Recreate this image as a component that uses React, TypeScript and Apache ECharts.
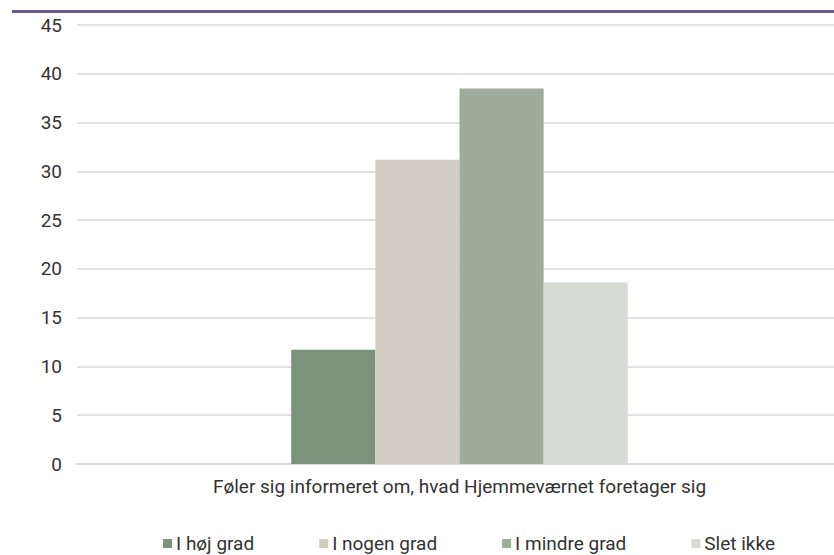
import React, { useEffect, useRef } from "react";
import * as echarts from "echarts";

const categories = ["Føler sig informeret om, hvad Hjemmeværnet foretager sig"];
const seriesNames = ["I høj grad", "I nogen grad", "I mindre grad", "Slet ikke"];
const seriesValues = [[11.7], [31.2], [38.5], [18.6]];
const seriesColors = ["#7a937a", "#d1cdc2", "#9dad99", "#d9dcd5"];

const FONT = "Roboto";

export default function App() {
  const ref = useRef<HTMLDivElement>(null);
  useEffect(() => {
    document.body.style.margin = "0";
    document.body.style.overflow = "hidden";
    const chart = echarts.init(ref.current!, null, { renderer: "svg" });
    chart.setOption({
      animation: false,
      textStyle: { fontFamily: FONT },
      grid: { left: 77, right: 0, top: 25, bottom: 91 },
      graphic: [
        {
          type: "rect",
          shape: { x: 12, y: 10, width: 840, height: 3 },
          style: { fill: "#6b5b8d" },
        },
      ],
      legend: {
        bottom: 2,
        left: 163,
        padding: 0,
        itemWidth: 9,
        itemHeight: 9,
        itemGap: 65,
        icon: "rect",
        textStyle: { fontSize: 19, color: "#333", padding: [0, 0, 0, -1], fontFamily: FONT },
        data: seriesNames,
      },
      xAxis: {
        type: "category",
        data: categories,
        axisTick: { show: false },
        axisLine: { lineStyle: { color: "#d9d9d9", width: 1.5 } },
        axisLabel: { fontSize: 19, color: "#333", margin: 13, fontFamily: FONT },
      },
      yAxis: {
        type: "value",
        min: 0,
        max: 45,
        interval: 5,
        axisLabel: { fontSize: 19, color: "#333", margin: 15, fontFamily: FONT },
        splitLine: { lineStyle: { color: "#d9d9d9", width: 1.5 } },
      },
      series: seriesNames.map((name, i) => ({
        name,
        type: "bar",
        data: seriesValues[i],
        barGap: "0%",
        barCategoryGap: "56%",
        itemStyle: { color: seriesColors[i] },
      })),
    });
    return () => chart.dispose();
  }, []);
  return <div ref={ref} style={{ width: 842, height: 555 }} />;
}
